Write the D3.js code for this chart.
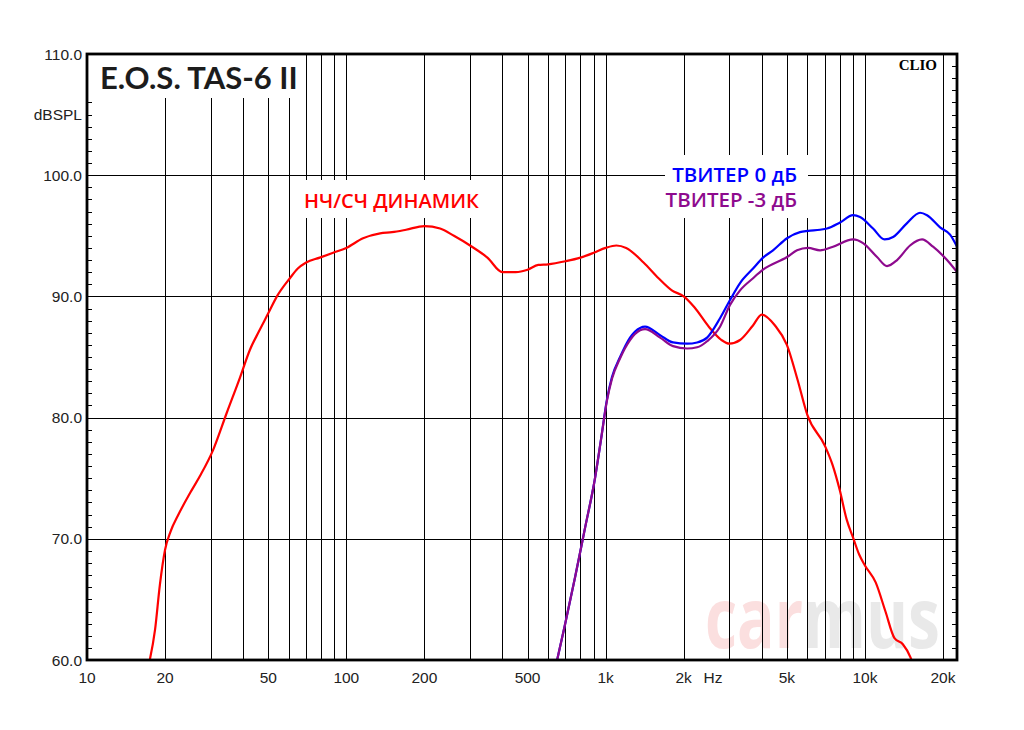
<!DOCTYPE html>
<html><head><meta charset="utf-8">
<script src="https://cdn.jsdelivr.net/npm/d3@7"></script>
<style>body{margin:0;background:#fff;} svg{display:block;}</style>
</head><body>
<svg id="chart" width="1024" height="730"></svg>
<script>
// ---- data ----
const title = "E.O.S. TAS-6 II";
const yTickValues = [60, 70, 80, 90, 100, 110];
const xGridValues = [20,30,40,50,60,70,80,90,100,200,300,400,500,600,700,800,900,1000,2000,3000,4000,5000,6000,7000,8000,9000,10000,20000];
const xTickValues = [10,20,50,100,200,500,1000,2000,5000,10000,20000];
const xTickLabels = ["10","20","50","100","200","500","1k","2k","5k","10k","20k"];
const seriesNames = ["НЧ/СЧ ДИНАМИК", "ТВИТЕР 0 дБ", "ТВИТЕР -3 дБ"];
const wooferData = [[17.3,59.6],[18.3,62.5],[19.1,66.2],[20,69.1],[21,70.6],[22.4,71.9],[25,73.8],[27.3,75.2],[30.6,77.3],[34.6,80.4],[38.9,83.3],[42.5,85.6],[46,87.1],[50,88.6],[54,90.0],[60.6,91.5],[65,92.3],[70,92.8],[79,93.2],[89,93.6],[100,94.0],[116,94.8],[135,95.2],[150,95.3],[170,95.5],[200,95.8],[230,95.6],[260,95.0],[300,94.2],[350,93.2],[400,92.0],[450,92.0],[500,92.2],[550,92.6],[600,92.65],[700,92.9],[800,93.2],[900,93.6],[1000,94.0],[1100,94.2],[1200,94.0],[1400,92.8],[1600,91.5],[1800,90.5],[2000,90.0],[2200,89.1],[2500,87.5],[2800,86.4],[3000,86.1],[3300,86.4],[3700,87.6],[4000,88.5],[4500,87.6],[5000,86.0],[5500,83.1],[6000,80.2],[7000,77.7],[7500,76.1],[8000,74.0],[8500,71.6],[9000,70.1],[9500,68.7],[10000,67.8],[11000,66.4],[12000,64.0],[13000,61.8],[14000,61.3],[15000,60.2],[15500,59.3]];
const tweeter0Data = [[650,60.0],[697,62.9],[762,66.8],[833,70.9],[910,75.0],[960,78.2],[1012,81.5],[1058,83.35],[1137,85.0],[1242,86.6],[1358,87.4],[1419,87.5],[1622,86.8],[1820,86.2],[2061,86.1],[2253,86.2],[2462,86.6],[2762,88.2],[3018,89.7],[3299,91.1],[3703,92.3],[4046,93.2],[4421,93.8],[5008,94.8],[5618,95.3],[6035,95.4],[6713,95.5],[7141,95.6],[8017,96.1],[8999,96.7],[9574,96.55],[10748,95.6],[11900,94.7],[12838,94.9],[14535,96.05],[16313,96.9],[17357,96.7],[19482,95.7],[21296,95.1],[22660,94.1]];
const tweeter3Data = [[650,60.0],[697,62.9],[762,66.8],[833,70.9],[910,75.0],[960,78.2],[1012,81.4],[1058,83.2],[1137,84.9],[1242,86.4],[1358,87.2],[1419,87.3],[1622,86.6],[1820,85.9],[2061,85.7],[2253,85.8],[2462,86.3],[2762,87.5],[3018,89.3],[3299,90.5],[3703,91.5],[4046,92.2],[5008,93.25],[5472,93.8],[6035,94.0],[6713,93.8],[7534,94.1],[8999,94.7],[9833,94.4],[11134,93.25],[12166,92.5],[13301,93.0],[14927,94.2],[16606,94.7],[18307,94.1],[20730,93.0],[22660,92.0]];
const seriesColors = ["#ff0000", "#0000ff", "#8e0a8e"];

// ---- layout ----
const L = 87, R = 957, T = 54, B = 660;
const svg = d3.select("#chart");
const x = d3.scaleLog().domain([10, 20000]).range([L, 943]);
const y = d3.scaleLinear().domain([60, 110]).range([B, T]);
const px = v => Math.round(v) + 0.5;

svg.append("defs").append("clipPath").attr("id","clip")
  .append("rect").attr("x",L).attr("y",T).attr("width",R-L).attr("height",B-T);

// watermark
const wm = svg.append("g").attr("font-family","'Open Sans', sans-serif").attr("font-weight",700).attr("font-size",84);
wm.append("text").attr("x",705).attr("y",648).attr("fill","#fbdfdf").attr("textLength",98).attr("lengthAdjust","spacingAndGlyphs").text("car");
wm.append("text").attr("x",803).attr("y",648).attr("fill","#e9e9e9").attr("textLength",137).attr("lengthAdjust","spacingAndGlyphs").text("mus");

// grid
const grid = svg.append("g").attr("stroke","#000").attr("stroke-width",1).attr("shape-rendering","crispEdges");
grid.selectAll("line.v").data(xGridValues).join("line").attr("class","v")
  .attr("x1",d=>px(x(d))).attr("x2",d=>px(x(d))).attr("y1",T).attr("y2",B);
grid.selectAll("line.h").data(yTickValues.filter(v=>v>60&&v<110)).join("line").attr("class","h")
  .attr("y1",d=>px(y(d))).attr("y2",d=>px(y(d))).attr("x1",L).attr("x2",R);

// minor ticks (every dB)
const allTicks = d3.range(61,110);
grid.selectAll("line.tl").data(allTicks).join("line").attr("class","tl")
  .attr("x1",L).attr("x2",L+5).attr("y1",d=>px(y(d))).attr("y2",d=>px(y(d)));
grid.selectAll("line.tr").data(allTicks).join("line").attr("class","tr")
  .attr("x1",R-5).attr("x2",R).attr("y1",d=>px(y(d))).attr("y2",d=>px(y(d)));

// white label boxes
const boxes = [[L+1,T+1,206,43],[300,180,183,38],[665,155,143,63]];
svg.append("g").selectAll("rect").data(boxes).join("rect")
  .attr("x",d=>d[0]).attr("y",d=>d[1]).attr("width",d=>d[2]).attr("height",d=>d[3]).attr("fill","#fff");

// curves
const line = d3.line().x(d=>x(d[0])).y(d=>y(d[1])).curve(d3.curveMonotoneX);
const curves = svg.append("g").attr("clip-path","url(#clip)").attr("fill","none").attr("stroke-width",2.2).attr("stroke-linejoin","round");
curves.append("path").datum(wooferData).attr("d",line).attr("stroke",seriesColors[0]);
curves.append("path").datum(tweeter0Data).attr("d",line).attr("stroke",seriesColors[1]);
curves.append("path").datum(tweeter3Data).attr("d",line).attr("stroke",seriesColors[2]);

// frame
svg.append("rect").attr("x",L).attr("y",T).attr("width",R-L).attr("height",B-T)
  .attr("fill","none").attr("stroke","#000").attr("stroke-width",2.8);

// axis labels
const axTxt = svg.append("g").attr("font-family","'Liberation Sans', Arial, sans-serif").attr("font-size",15.5).attr("fill","#222");
axTxt.selectAll("text.y").data(yTickValues).join("text").attr("class","y")
  .attr("x",82).attr("y",d=>y(d)+5.5).attr("text-anchor","end").text(d=>d.toFixed(1));
axTxt.append("text").attr("x",82).attr("y",y(105)+5.5).attr("text-anchor","end").text("dBSPL");
axTxt.selectAll("text.x").data(xTickValues).join("text").attr("class","x")
  .attr("x",d=>x(d)).attr("y",683).attr("text-anchor","middle").text((d,i)=>xTickLabels[i]);
axTxt.append("text").attr("x",713).attr("y",683).attr("text-anchor","middle").text("Hz");

// title & labels
svg.append("text").attr("x",100).attr("y",89).attr("font-family","Lato, 'Open Sans', sans-serif").attr("font-weight",700)
  .attr("font-size",31).attr("fill","#1c1c1c").text(title);
svg.append("text").attr("x",937).attr("y",70).attr("text-anchor","end").attr("font-family","'Liberation Serif', serif").attr("font-weight",700)
  .attr("font-size",15).attr("fill","#000").text("CLIO");
const lab = svg.append("g").attr("font-family","'Open Sans', 'Noto Sans', sans-serif").attr("font-weight",600).attr("font-size",20.5);
lab.append("text").attr("x",304).attr("y",208).attr("font-size",20).attr("fill",seriesColors[0]).text(seriesNames[0]);
lab.append("text").attr("x",797).attr("y",182).attr("text-anchor","end").attr("fill",seriesColors[1]).text(seriesNames[1]);
lab.append("text").attr("x",797).attr("y",207).attr("text-anchor","end").attr("fill",seriesColors[2]).text(seriesNames[2]);
</script>
</body></html>
